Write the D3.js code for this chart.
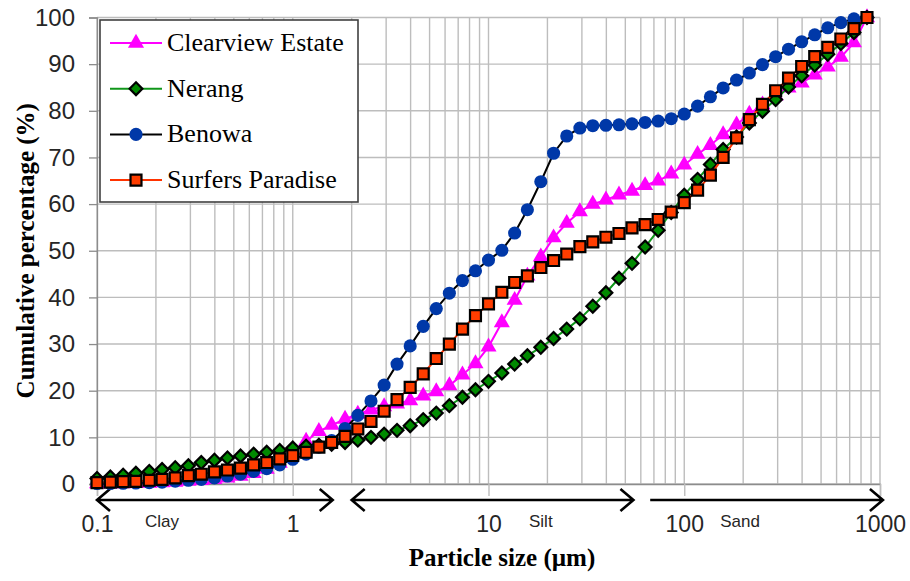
<!DOCTYPE html>
<html>
<head>
<meta charset="utf-8">
<script src="https://cdn.jsdelivr.net/npm/d3@7"></script>
<style>
  body { margin: 0; background: #fff; }
  svg { display: block; }
</style>
</head>
<body>
<div id="chart"></div>
<script>
// particle size classes (um), log spaced
const sizes = [0.1, 0.117, 0.136, 0.158, 0.185, 0.215, 0.251, 0.293, 0.341, 0.398, 0.464, 0.541, 0.631, 0.736, 0.858,
  1, 1.17, 1.36, 1.58, 1.85, 2.15, 2.51, 2.93, 3.41, 3.98, 4.64, 5.41, 6.31, 7.36, 8.58,
  10, 11.7, 13.6, 15.8, 18.5, 21.5, 25.1, 29.3, 34.1, 39.8, 46.4, 54.1, 63.1, 73.6, 85.8,
  100, 117, 136, 158, 185, 215, 251, 293, 341, 398, 464, 541, 631, 736, 858];

const clearview = [0.1, 0.1, 0.1, 0.2, 0.2, 0.3, 0.4, 0.6, 0.8, 1.0, 1.3, 1.7, 2.3, 3.2, 4.5,
  6.5, 9.2, 11.3, 12.6, 13.9, 15.0, 15.9, 16.6, 17.2, 17.9, 18.9, 19.8, 21.1, 23.4, 25.8,
  29.4, 34.6, 39.4, 44.6, 48.7, 52.8, 55.9, 58.4, 60.0, 60.9, 62.0, 62.8, 64.0, 65.0, 66.5,
  68.4, 70.7, 72.6, 74.9, 77.0, 79.3, 81.3, 83.2, 84.9, 86.0, 87.7, 89.4, 91.5, 94.6, 100];

const nerang = [1.2, 1.5, 1.9, 2.3, 2.7, 3.1, 3.5, 3.9, 4.6, 5.1, 5.6, 6.0, 6.4, 6.8, 7.2,
  7.7, 8.1, 8.3, 8.5, 8.9, 9.4, 10.0, 10.7, 11.5, 12.5, 13.8, 15.2, 16.8, 18.6, 20.2,
  22.0, 23.8, 25.7, 27.5, 29.3, 31.2, 33.2, 35.4, 38.1, 41.0, 44.1, 47.3, 50.8, 54.4, 58.2,
  61.9, 65.3, 68.5, 71.7, 74.4, 77.4, 79.9, 82.4, 85.1, 87.5, 89.8, 92.1, 94.4, 96.8, 100];

const benowa = [0.1, 0.1, 0.15, 0.2, 0.3, 0.4, 0.6, 0.8, 1.0, 1.3, 1.7, 2.1, 2.7, 3.3, 4.1,
  5.3, 6.4, 7.9, 9.3, 11.9, 14.7, 17.8, 21.2, 25.7, 29.6, 33.8, 37.6, 40.9, 43.6, 45.7,
  48.0, 50.1, 53.8, 58.8, 64.8, 70.9, 74.6, 76.3, 76.8, 76.9, 77.0, 77.2, 77.5, 77.8, 78.3,
  79.3, 81.0, 83.0, 84.9, 86.6, 88.1, 89.9, 91.6, 93.2, 94.8, 96.3, 97.8, 98.9, 99.7, 100];

const surfers = [0.3, 0.4, 0.5, 0.55, 0.8, 1.0, 1.3, 1.8, 2.1, 2.6, 3.0, 3.4, 4.1, 4.6, 5.4,
  6.1, 6.8, 7.9, 8.9, 10.2, 11.8, 13.4, 15.6, 18.1, 20.7, 23.6, 26.9, 30.0, 33.2, 36.1,
  38.6, 41.1, 43.2, 44.6, 46.4, 47.9, 49.3, 50.9, 51.9, 52.9, 53.7, 54.9, 55.6, 56.7, 58.3,
  60.3, 63.0, 66.2, 70.0, 74.2, 78.1, 81.4, 84.3, 87.0, 89.5, 91.6, 93.6, 95.4, 97.6, 100];

const seriesNames = ['Clearview Estate', 'Nerang', 'Benowa', 'Surfers Paradise'];
const yTicks = [0, 10, 20, 30, 40, 50, 60, 70, 80, 90, 100];
const xTickLabels = [0.1, 1, 10, 100, 1000];

// texture classes (um)
const classNames = ['Clay', 'Silt', 'Sand'];
const classStart = [0.1, 2, 67];
const classEnd = [1.6, 55, 1035];
const classLabelAt = [0.215, 18.5, 193];

const seriesValues = [clearview, nerang, benowa, surfers];
const styles = [
  { line: '#ff00ff', fill: '#ff00ff', stroke: 'none', shape: 'triangle' },
  { line: '#10961a', fill: '#008a00', stroke: '#000', shape: 'diamond' },
  { line: '#000000', fill: '#0038a8', stroke: 'none', shape: 'circle' },
  { line: '#ff3300', fill: '#ff3d00', stroke: '#000', shape: 'square' }
];

const margin = { top: 17.5, right: 30, bottom: 97, left: 97 };
const W = 910, H = 581;
const width = W - margin.left - margin.right;
const height = H - margin.top - margin.bottom;

const x = d3.scaleLog().domain([0.1, 1000]).range([0, width]);
const y = d3.scaleLinear().domain([0, 100]).range([height, 0]);

const svg = d3.select('#chart').append('svg')
    .attr('width', W)
    .attr('height', H)
    .style('background', '#fff');

const g = svg.append('g')
    .attr('transform', `translate(${margin.left}, ${margin.top})`);

// grid
g.append('g')
  .selectAll('line')
  .data(x.ticks())
  .join('line')
    .attr('x1', d => x(d)).attr('x2', d => x(d))
    .attr('y1', 0).attr('y2', height)
    .attr('stroke', '#bdbdbd')
    .attr('stroke-width', 1.4);

g.append('g')
  .selectAll('line')
  .data(yTicks)
  .join('line')
    .attr('x1', 0).attr('x2', width)
    .attr('y1', d => y(d)).attr('y2', d => y(d))
    .attr('stroke', '#bdbdbd')
    .attr('stroke-width', 1.4);

// axes
const yAxis = g.append('g')
    .call(d3.axisLeft(y).tickValues(yTicks).tickSize(8).tickPadding(14));
yAxis.select('.domain').attr('stroke', '#8c8c8c').attr('stroke-width', 1.3);
yAxis.selectAll('.tick line').attr('stroke', '#8c8c8c').attr('stroke-width', 1.3);
yAxis.selectAll('.tick text')
    .attr('font-family', 'Liberation Sans, Arial, sans-serif')
    .attr('font-size', 24)
    .attr('fill', '#262626');

const xAxis = g.append('g')
    .attr('transform', `translate(0, ${height})`)
    .call(d3.axisBottom(x).tickValues(xTickLabels).tickSize(12).tickFormat(d => String(d)).tickPadding(20));
xAxis.select('.domain').attr('stroke', '#8c8c8c').attr('stroke-width', 1.3);
xAxis.selectAll('.tick line').attr('stroke', '#bdbdbd').attr('stroke-width', 1.4);
xAxis.selectAll('.tick text')
    .attr('font-family', 'Liberation Sans, Arial, sans-serif')
    .attr('font-size', 23)
    .attr('fill', '#262626');

// class arrows
const arrowY = height + 16;
const ah = 13, av = 11;
classNames.forEach((name, i) => {
  const x0 = x(classStart[i]), x1 = x(classEnd[i]);
  let p = `M${x0},${arrowY}L${x1},${arrowY}`;
  p += `M${x1 - ah},${arrowY - av}L${x1},${arrowY}L${x1 - ah},${arrowY + av}`;
  if (i < 2) p += `M${x0 + ah},${arrowY - av}L${x0},${arrowY}L${x0 + ah},${arrowY + av}`;
  g.append('path')
      .attr('d', p)
      .attr('fill', 'none')
      .attr('stroke', '#000')
      .attr('stroke-width', 2.6);
  g.append('text')
      .attr('x', x(classLabelAt[i]))
      .attr('y', height + 43)
      .attr('text-anchor', 'middle')
      .attr('font-family', 'Liberation Sans, Arial, sans-serif')
      .attr('font-size', 17)
      .attr('fill', '#262626')
      .text(name);
});

function symbolPath(shape) {
  if (shape === 'triangle') return d3.symbol(d3.symbolTriangle, 112)();
  if (shape === 'diamond') return d3.symbol(d3.symbolSquare, 82)();
  if (shape === 'circle') return d3.symbol(d3.symbolCircle, 135)();
  return d3.symbol(d3.symbolSquare, 120)();
}

function drawMarker(sel, st) {
  sel.append('path')
      .attr('d', symbolPath(st.shape))
      .attr('transform', st.shape === 'diamond' ? 'rotate(45)' : null)
      .attr('fill', st.fill)
      .attr('stroke', st.stroke)
      .attr('stroke-width', st.stroke === 'none' ? 0 : 2.2);
}

const line = d3.line()
    .x((d, i) => x(sizes[i]))
    .y(d => y(d));

seriesValues.forEach((vals, s) => {
  const st = styles[s];
  g.append('path')
      .datum(vals)
      .attr('fill', 'none')
      .attr('stroke', st.line)
      .attr('stroke-width', 2)
      .attr('d', line);
  g.append('g')
    .selectAll('g')
    .data(vals)
    .join('g')
      .attr('transform', (d, i) => `translate(${x(sizes[i])}, ${y(d)})`)
      .each(function() { drawMarker(d3.select(this), st); });
});

// legend
const legend = svg.append('g').attr('transform', 'translate(100, 20)');
legend.append('rect')
    .attr('width', 258).attr('height', 182)
    .attr('fill', '#fff')
    .attr('stroke', '#404040')
    .attr('stroke-width', 1.6);
seriesNames.forEach((name, s) => {
  const st = styles[s];
  const ly = 23 + s * 45.7;
  legend.append('line')
      .attr('x1', 10).attr('x2', 62)
      .attr('y1', ly).attr('y2', ly)
      .attr('stroke', st.line)
      .attr('stroke-width', 2);
  drawMarker(legend.append('g').attr('transform', `translate(36, ${ly})`), st);
  legend.append('text')
      .attr('x', 67).attr('y', ly + 8)
      .attr('font-family', 'Liberation Serif, Times New Roman, serif')
      .attr('font-size', 26)
      .attr('fill', '#000')
      .text(name);
});

// axis titles
svg.append('text')
    .attr('transform', `translate(34, ${margin.top + height / 2}) rotate(-90)`)
    .attr('text-anchor', 'middle')
    .attr('font-family', 'Liberation Serif, Times New Roman, serif')
    .attr('font-weight', 'bold')
    .attr('font-size', 25)
    .text('Cumulative percentage (%)');

svg.append('text')
    .attr('x', 502)
    .attr('y', 566)
    .attr('text-anchor', 'middle')
    .attr('font-family', 'Liberation Serif, Times New Roman, serif')
    .attr('font-weight', 'bold')
    .attr('font-size', 25)
    .text('Particle size (µm)');
</script>
</body>
</html>
